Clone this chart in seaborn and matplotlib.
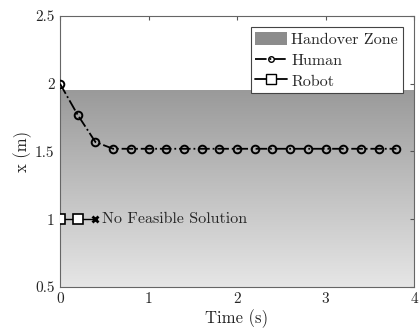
import numpy as np
import pandas as pd
import matplotlib
matplotlib.use("Agg")
import matplotlib.pyplot as plt
import seaborn as sns
from matplotlib.patches import Patch
from matplotlib.lines import Line2D

sns.set_style("white")
plt.rcParams['font.family'] = ['cmr10', 'DejaVu Serif']
plt.rcParams['mathtext.fontset'] = 'cm'
plt.rcParams['axes.formatter.use_mathtext'] = True

# data
human_t = [0.0, 0.2, 0.4, 0.6, 0.8, 1.0, 1.2, 1.4, 1.6, 1.8, 2.0,
           2.2, 2.4, 2.6, 2.8, 3.0, 3.2, 3.4, 3.6, 3.8]
human_x = [2.0, 1.77, 1.57, 1.52, 1.52, 1.52, 1.52, 1.52, 1.52, 1.52, 1.52,
           1.52, 1.52, 1.52, 1.52, 1.52, 1.52, 1.52, 1.52, 1.52]
robot_t = [0.0, 0.2]
robot_x = [1.0, 1.0]
fail_t = [0.4]
fail_x = [1.0]
zone_low, zone_high = 0.5, 1.95

human = pd.DataFrame({"t": human_t, "x": human_x})
robot = pd.DataFrame({"t": robot_t + fail_t, "x": robot_x + fail_x})

fig = plt.figure(figsize=(4.19, 3.35), dpi=100)
ax = fig.add_axes([0.1432, 0.1433, 0.845, 0.809])

# handover zone gradient
grad = np.linspace(0, 1, 256).reshape(-1, 1)
ax.imshow(grad, extent=[0, 4, zone_low, zone_high], origin="lower",
          cmap=matplotlib.colors.LinearSegmentedColormap.from_list(
              "g", ["#e6e6e6", "#9a9a9a"]),
          aspect="auto", zorder=0)

sns.lineplot(data=human, x="t", y="x", ax=ax, color="black", linestyle="-.",
             marker="o", markersize=5.5, markerfacecolor="none",
             markeredgecolor="black", markeredgewidth=1.4, linewidth=1.3,
             zorder=3)
sns.lineplot(data=robot, x="t", y="x", ax=ax, color="black", linewidth=1.0,
             zorder=3)
ax.plot(robot_t, robot_x, linestyle="none", marker="s", markersize=7.5,
        markerfacecolor="white", markeredgecolor="black",
        markeredgewidth=1.2, zorder=4)
ax.plot(fail_t, fail_x, linestyle="none", marker="x", markersize=5,
        markeredgewidth=2, color="black", zorder=4)
ax.text(0.47, 1.0, "No Feasible Solution", va="center", ha="left",
        fontsize=11.5)

ax.set_xlim(0, 4)
ax.set_ylim(0.5, 2.5)
ax.set_xticks([0, 1, 2, 3, 4])
ax.set_yticks([0.5, 1, 1.5, 2, 2.5])
ax.set_xticklabels(["0", "1", "2", "3", "4"])
ax.set_yticklabels(["0.5", "1", "1.5", "2", "2.5"])
ax.set_xlabel("Time (s)", fontsize=12, labelpad=2)
ax.set_ylabel("x (m)", fontsize=12, labelpad=2)
ax.tick_params(direction="in", length=3, labelsize=11, top=True, right=True,
               color="#555555", pad=4)
for s in ax.spines.values():
    s.set_color("#666666")
    s.set_linewidth(0.8)

handles = [Patch(facecolor="#8c8c8c", edgecolor="none"),
           Line2D([], [], color="black", linestyle="-.", marker="o",
                  markersize=4, markerfacecolor="none", linewidth=1.3),
           Line2D([], [], color="black", marker="s", markersize=7.5,
                  markerfacecolor="white", linewidth=1.3)]
leg = ax.legend(handles, ["Handover Zone", "Human", "Robot"], loc="upper right",
                fontsize=11.5, frameon=True, fancybox=False, framealpha=1,
                edgecolor="#444444", handlelength=2.0, handleheight=0.9,
                handletextpad=0.25, borderpad=0.3, labelspacing=0.35,
                borderaxespad=0.7)
leg.get_frame().set_linewidth(0.8)

fig.savefig("out.png", dpi=100)
